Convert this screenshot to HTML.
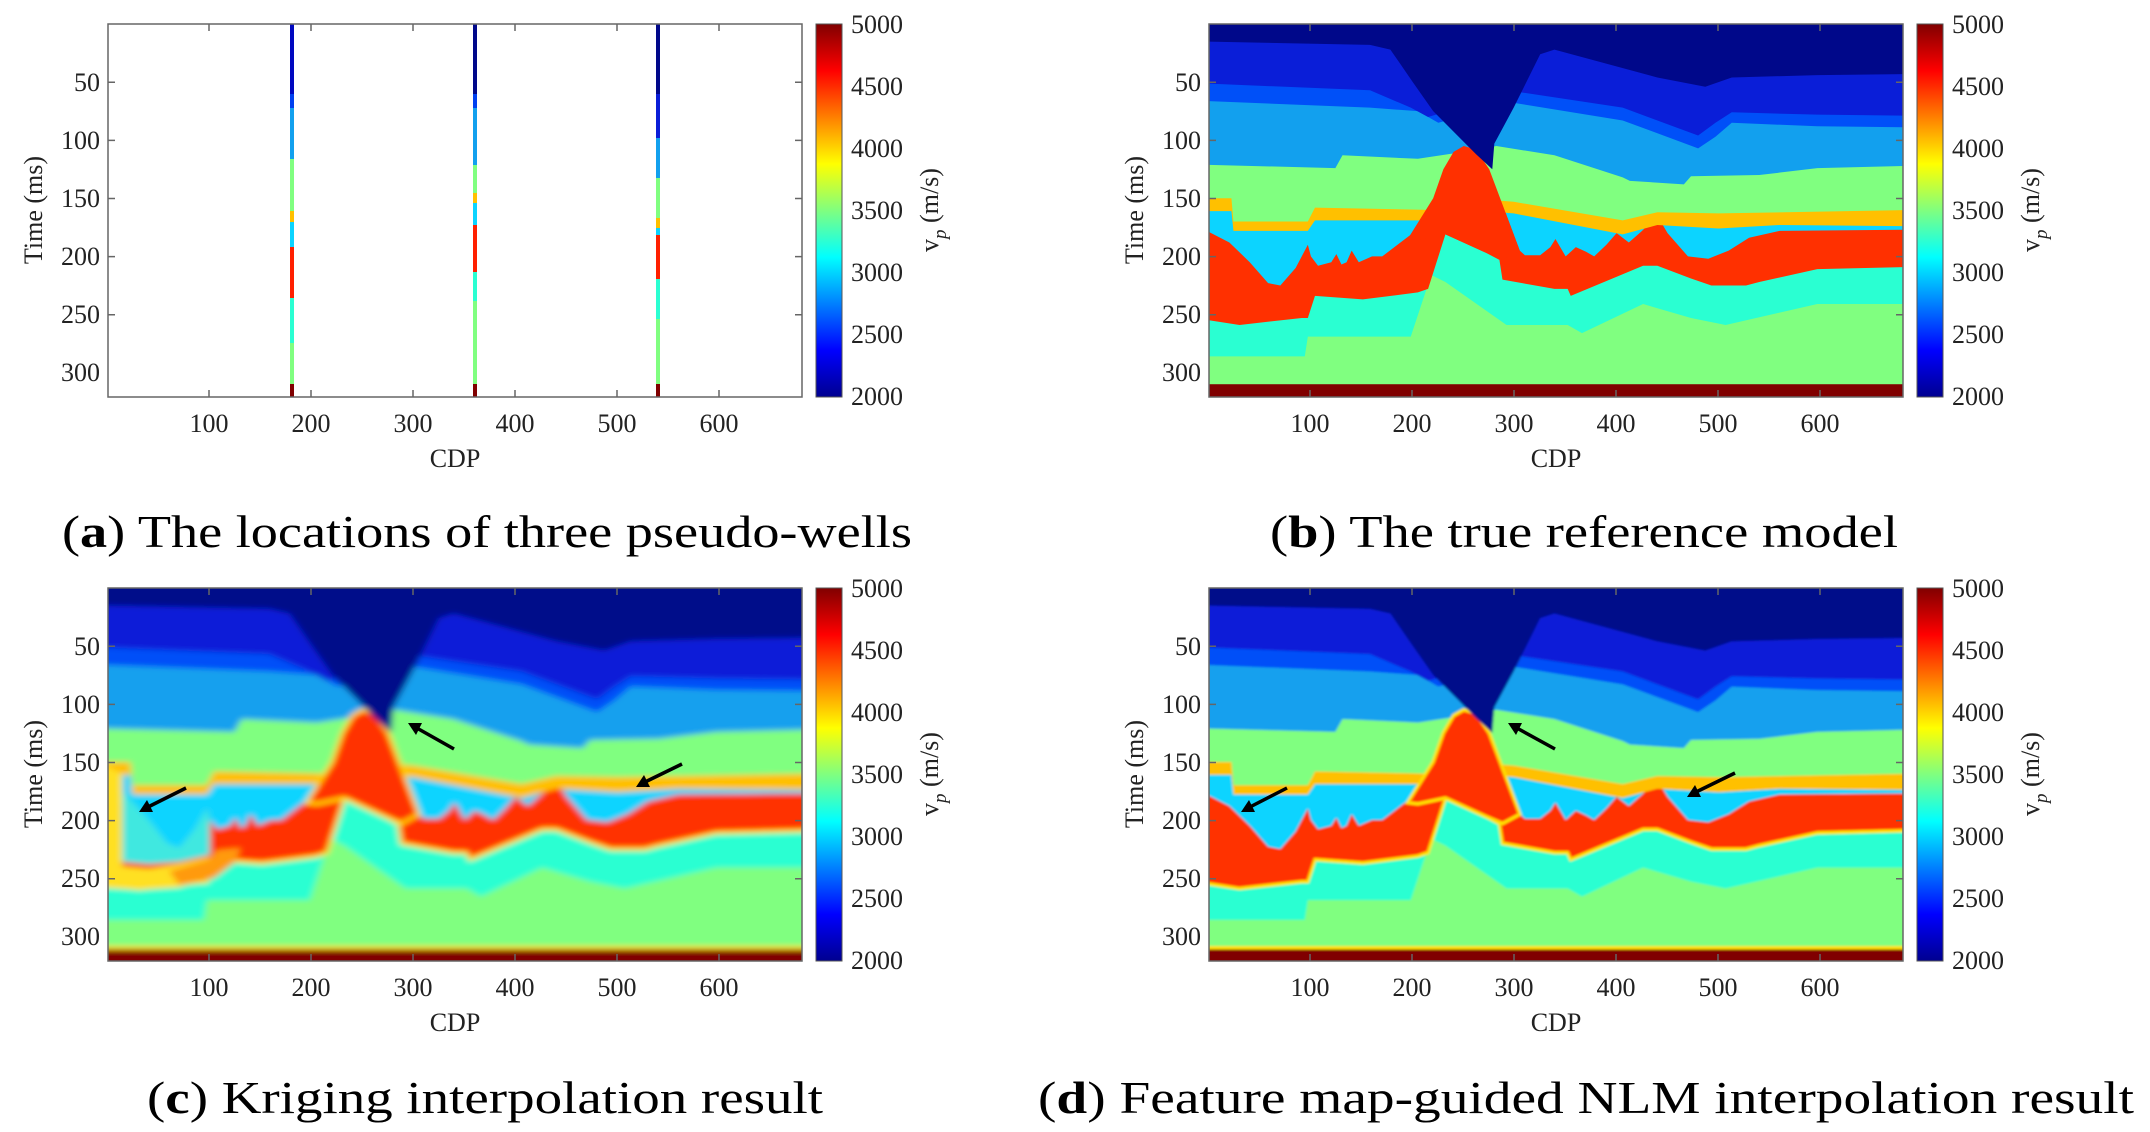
<!DOCTYPE html>
<html><head><meta charset="utf-8"><style>
html,body{margin:0;padding:0;background:#fff;}
svg{display:block;}
text{font-family:"Liberation Serif",serif;fill:#222;}
.tk{font-size:26px;}
.cap{font-size:46px;fill:#000;}
</style></head><body>
<svg width="2150" height="1132" viewBox="0 0 2150 1132" xmlns="http://www.w3.org/2000/svg">
<defs>
<linearGradient id="jet" x1="0" y1="1" x2="0" y2="0">
<stop offset="0" stop-color="#00008f"/><stop offset="0.125" stop-color="#0000ff"/>
<stop offset="0.375" stop-color="#00ffff"/><stop offset="0.625" stop-color="#ffff00"/>
<stop offset="0.875" stop-color="#ff0000"/><stop offset="1" stop-color="#800000"/>
</linearGradient>
<filter id="b1" x="-5%" y="-5%" width="110%" height="110%"><feGaussianBlur stdDeviation="3.5 2.6"/></filter>
<filter id="b2" x="-5%" y="-5%" width="110%" height="110%"><feGaussianBlur stdDeviation="1.4 1.1"/></filter>
<g id="model">
<rect x="-10" y="-10" width="701" height="341" fill="#80ff80"/>
<polygon fill="#2affd2" points="-10,-10 -10,286 0,286 94,286 97,269 198,269 218,216 232,222 292,259 352,259 366,266 426,241 473,253 507,259 597,241 691,241 691,-10"/>
<polygon fill="#ff3000" style="stroke:var(--rs,none);stroke-width:3" points="-10,-10 -10,255 0,255 30,259 91,253 97,253 104,234 151,237 205,231 215,228 232,181 272,197 285,203 288,220 339,228 352,228 355,234 426,208 440,208 473,219 493,225 527,225 540,222 597,211 691,209 691,-10"/>
<polygon fill="#0cd4ff" points="-10,-10 -10,179 0,179 20,188 40,205 58,223 70,225 85,210 97,190 100,200 107,208 120,205 125,198 130,207 135,205 140,195 147,205 160,200 170,200 200,180 220,150 230,125 240,110 250,105 262,108 275,125 290,160 305,195 310,199 325,199 335,192 340,185 350,200 360,192 370,196 378,200 390,190 400,180 412,188 425,178 440,165 450,180 470,200 490,202 510,195 530,184 560,178 691,177 691,-10"/>
<polygon fill="#ffc000" points="-10,-10 -10,161 22,161 24,178 97,178 104,169 215,169 285,162 299,163 406,181 440,173 500,176 560,173 691,174 691,-10"/>
<polygon fill="#80ff80" points="-10,-10 -10,150 22,150 24,170 97,170 104,158 215,160 285,152 299,153 406,169 440,162 500,163 691,160 691,-10"/>
<polygon fill="#12a0ee" points="-10,-10 -10,121 124,124 131,113 205,116 250,110 282,105 339,113 406,132 413,135 466,138 473,131 540,130 597,124 691,122 691,-10"/>
<polygon fill="#0050f8" points="-10,-10 -10,66 158,72 205,75 225,85 300,68 406,83 480,107 497,97 513,85 597,88 691,89 691,-10"/>
<polygon fill="#0a1ed8" points="-10,-10 -10,51 158,57 198,72 215,80 300,58 406,72 480,96 497,85 513,76 597,78 691,79 691,-10"/>
<polygon fill="#ff3000" style="stroke:var(--rs,none);stroke-width:3" points="195,185 220,150 230,125 240,110 250,105 262,108 275,125 290,160 305,195 288,203 272,197 232,181 205,186"/>
<polygon fill="#00088a" points="-10,-10 -10,15 158,18 178,22 200,50 220,75 245,97 262,112 278,125 280,103 299,72 325,26 339,22 440,46 487,54 513,46 597,44 691,43 691,-10"/>
<rect x="-10" y="310" width="701" height="30" fill="#800000" style="stroke:var(--rs,none);stroke-width:3"/>
</g>
<clipPath id="cb"><rect x="1209" y="24" width="694" height="373"/></clipPath>
<clipPath id="cc"><rect x="108" y="588" width="694" height="373"/></clipPath>
<clipPath id="cd"><rect x="1209" y="588" width="694" height="373"/></clipPath>
</defs>

<!-- Panel b -->
<g clip-path="url(#cb)"><use href="#model" transform="translate(1209,24) scale(1.019,1.162)"/></g>
<!-- Panel c -->
<g clip-path="url(#cc)"><g filter="url(#b1)" style="--rs:#ffe000">
<use href="#model" transform="translate(108,588) scale(1.019,1.1604)"/>
<g transform="translate(108,588) scale(1.019,1.1604)">
<polygon fill="#ffe020" points="-10,150 14,160 14,240 40,242 70,238 100,232 104,248 70,258 30,260 -10,258"/>
<polygon fill="#40e8e0" points="14,175 40,200 58,220 70,224 85,208 97,190 100,200 100,230 70,236 40,238 14,236"/>
<polygon fill="#ff9a10" points="60,244 100,234 106,226 130,224 125,236 104,250 70,256"/>
</g>
</g></g>
<!-- Panel d -->
<g clip-path="url(#cd)"><g filter="url(#b2)" style="--rs:#ffe000"><use href="#model" transform="translate(1209,588) scale(1.019,1.1604)"/></g></g>

<!-- Panel a wells -->
<g>
<rect x="290" y="24" width="4" height="70" fill="#0008c0"/><rect x="290" y="94" width="4" height="14" fill="#0040f0"/><rect x="290" y="108" width="4" height="51" fill="#12a0ee"/><rect x="290" y="159" width="4" height="52" fill="#80ff80"/><rect x="290" y="211" width="4" height="11" fill="#ffc000"/><rect x="290" y="222" width="4" height="25" fill="#0cd4ff"/><rect x="290" y="247" width="4" height="51" fill="#ff2000"/><rect x="290" y="298" width="4" height="45" fill="#2affd2"/><rect x="290" y="343" width="4" height="41" fill="#80ff80"/><rect x="290" y="384" width="4" height="13" fill="#800000"/>
<rect x="473" y="24" width="4" height="70" fill="#00088a"/><rect x="473" y="94" width="4" height="14" fill="#0040f0"/><rect x="473" y="108" width="4" height="57" fill="#12a0ee"/><rect x="473" y="165" width="4" height="28" fill="#80ff80"/><rect x="473" y="193" width="4" height="10" fill="#ffc000"/><rect x="473" y="203" width="4" height="22" fill="#0cd4ff"/><rect x="473" y="225" width="4" height="47" fill="#ff2000"/><rect x="473" y="272" width="4" height="29" fill="#2affd2"/><rect x="473" y="301" width="4" height="83" fill="#80ff80"/><rect x="473" y="384" width="4" height="13" fill="#800000"/>
<rect x="656" y="24" width="4" height="70" fill="#00088a"/><rect x="656" y="94" width="4" height="44" fill="#0a1ed8"/><rect x="656" y="138" width="4" height="40" fill="#12a0ee"/><rect x="656" y="178" width="4" height="40" fill="#80ff80"/><rect x="656" y="218" width="4" height="10" fill="#ffc000"/><rect x="656" y="228" width="4" height="7" fill="#0cd4ff"/><rect x="656" y="235" width="4" height="44" fill="#ff2000"/><rect x="656" y="279" width="4" height="40" fill="#2affd2"/><rect x="656" y="319" width="4" height="65" fill="#80ff80"/><rect x="656" y="384" width="4" height="13" fill="#800000"/>
</g>

<!-- Axes, ticks, labels for 4 panels -->
<g id="axA" stroke="#666" stroke-width="1.5" fill="none">
<rect x="108" y="24" width="694" height="373"/>
<path d="M108,82.3h7M108,140.4h7M108,198.5h7M108,256.6h7M108,314.7h7M802,82.3h-7M802,140.4h-7M802,198.5h-7M802,256.6h-7M802,314.7h-7M209,397v-7M311,397v-7M413,397v-7M515,397v-7M617,397v-7M719,397v-7M209,24v7M311,24v7M413,24v7M515,24v7M617,24v7M719,24v7"/>
</g>
<use href="#axA" x="1101" y="0"/>
<use href="#axA" x="0" y="564"/>
<use href="#axA" x="1101" y="564"/>

<g id="lblA">
<g class="tk" text-anchor="end">
<text x="100" y="91">50</text><text x="100" y="149">100</text><text x="100" y="207">150</text><text x="100" y="265">200</text><text x="100" y="323">250</text><text x="100" y="381">300</text>
</g>
<g class="tk" text-anchor="middle">
<text x="209" y="432">100</text><text x="311" y="432">200</text><text x="413" y="432">300</text><text x="515" y="432">400</text><text x="617" y="432">500</text><text x="719" y="432">600</text>
</g>
<text class="tk" x="455" y="467" text-anchor="middle">CDP</text>
<text class="tk" transform="translate(42,210) rotate(-90)" text-anchor="middle">Time (ms)</text>
<rect x="816" y="24" width="26" height="373" fill="url(#jet)" stroke="#555" stroke-width="1"/>
<g class="tk">
<text x="851" y="33">5000</text><text x="851" y="95">4500</text><text x="851" y="157">4000</text><text x="851" y="219">3500</text><text x="851" y="281">3000</text><text x="851" y="343">2500</text><text x="851" y="405">2000</text>
</g>
<text class="tk" transform="translate(938,210) rotate(-90)" text-anchor="middle">v<tspan dy="8" font-size="19" font-style="italic">p</tspan><tspan dy="-8"> (m/s)</tspan></text>
</g>
<use href="#lblA" x="1101" y="0"/>
<use href="#lblA" x="0" y="564"/>
<use href="#lblA" x="1101" y="564"/>

<!-- arrows -->
<g stroke="#000" stroke-width="3.5" fill="#000">
<line x1="186" y1="788" x2="146" y2="808"/><polygon points="139,812 147,800 153,812" stroke="none"/>
<line x1="454" y1="749" x2="415" y2="727"/><polygon points="408,723 422,723 416,735" stroke="none"/>
<line x1="682" y1="764" x2="643" y2="783"/><polygon points="636,787 644,775 650,787" stroke="none"/>
<line x1="1287" y1="788" x2="1248" y2="808"/><polygon points="1241,812 1249,800 1255,812" stroke="none"/>
<line x1="1555" y1="749" x2="1515" y2="727"/><polygon points="1508,723 1522,723 1516,735" stroke="none"/>
<line x1="1735" y1="773" x2="1694" y2="793"/><polygon points="1687,797 1695,785 1701,797" stroke="none"/>
</g>

<!-- captions -->
<text class="cap" x="62" y="547" textLength="850" lengthAdjust="spacingAndGlyphs">(<tspan font-weight="bold">a</tspan>) The locations of three pseudo-wells</text>
<text class="cap" x="1270" y="547" textLength="628" lengthAdjust="spacingAndGlyphs">(<tspan font-weight="bold">b</tspan>) The true reference model</text>
<text class="cap" x="147" y="1113" textLength="676" lengthAdjust="spacingAndGlyphs">(<tspan font-weight="bold">c</tspan>) Kriging interpolation result</text>
<text class="cap" x="1038" y="1113" textLength="1096" lengthAdjust="spacingAndGlyphs">(<tspan font-weight="bold">d</tspan>) Feature map-guided NLM interpolation result</text>
</svg>
</body></html>
